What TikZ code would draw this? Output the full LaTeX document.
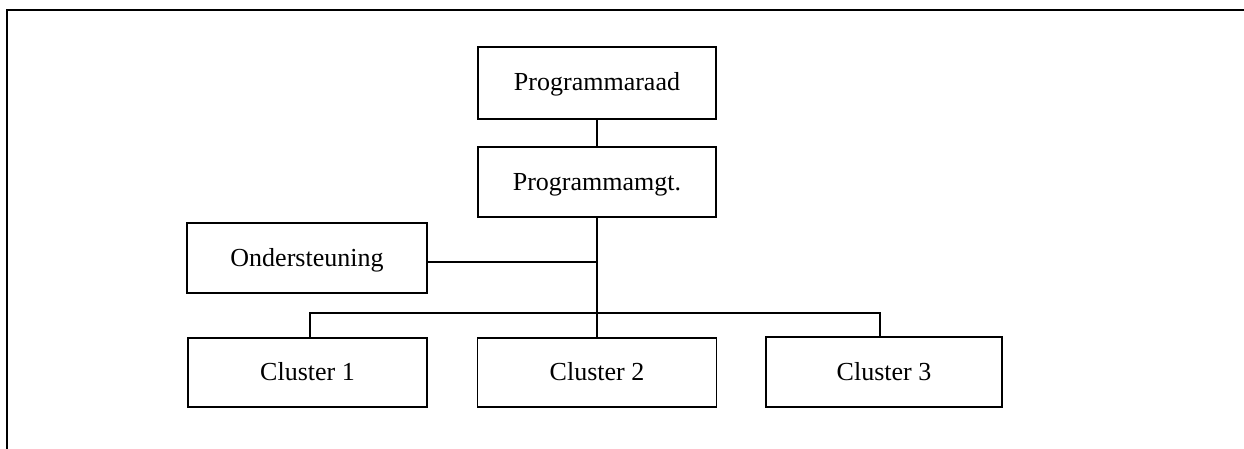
\documentclass[tikz,border=0pt]{standalone}
\usepackage{fontspec}
\setmainfont{Liberation Serif}
\begin{document}
\begin{tikzpicture}[x=1pt,y=-1pt,
  orgbox/.style={draw,line width=1.4pt,rectangle,inner sep=0pt,
    font=\fontsize{26}{30}\selectfont,text height=20pt,text depth=4pt},
  link/.style={line width=1.4pt},
  frame/.style={line width=2pt}]
\useasboundingbox (0,0) rectangle (1244,449);
% outer frame: top and left edges only
\draw[frame] (7,449) -- (7,10) -- (1244,10);

% boxes
\node[orgbox,minimum width=238pt,minimum height=72pt] (raad) at (597,83) {Programmaraad};
\node[orgbox,minimum width=238pt,minimum height=70pt] (mgt)  at (597,182) {Programmamgt.};
\node[orgbox,minimum width=240pt,minimum height=70pt] (ond)  at (307,258) {Ondersteuning};
\node[orgbox,minimum width=239pt,minimum height=69pt] (c1)   at (307.5,372.5) {Cluster 1};
\node[orgbox,minimum width=239pt,minimum height=69pt] (c2)   at (597,372.5) {Cluster 2};
\node[orgbox,minimum width=236pt,minimum height=70pt] (c3)   at (884,372) {Cluster 3};

% connectors
\coordinate (b1) at (310,313);
\coordinate (b3) at (880,313);
\draw[link] (raad.south) -- (mgt.north);
\draw[link] (mgt.south) -- (c2.north);
\draw[link] ([yshift=-4pt]ond.east) -- ([yshift=-4pt]ond.east -| mgt.south);
\draw[link] (c1.north -| b1) -- (b1) -- (b3) -- (c3.north -| b3);
\end{tikzpicture}
\end{document}
